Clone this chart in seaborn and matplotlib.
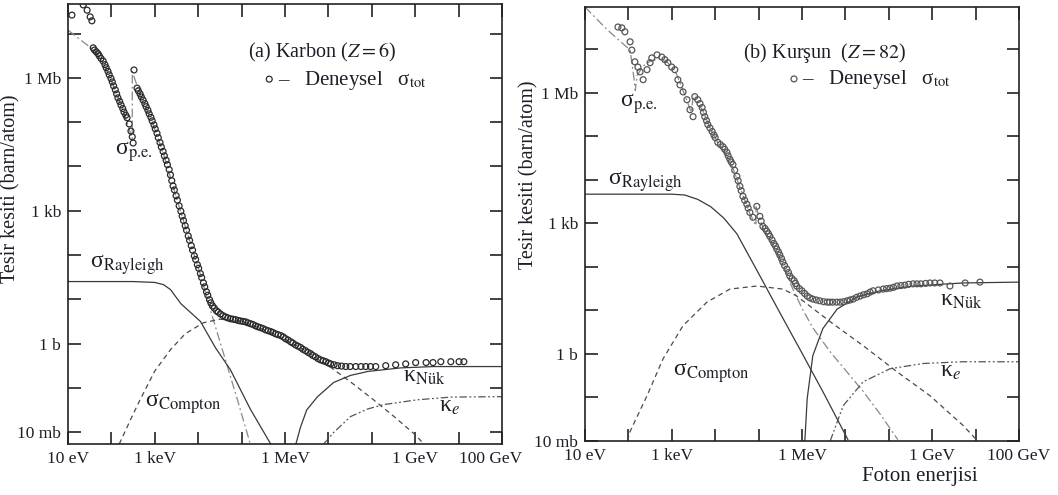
import numpy as np
import seaborn as sns
import matplotlib
matplotlib.use("Agg")
import matplotlib.pyplot as plt
from matplotlib.ticker import NullLocator
from matplotlib.transforms import ScaledTranslation

# All values are log10(E / eV) and log10(sigma / barn)

# ---- (a) Carbon ----
c_tot_logE = [1.09, 1.35, 1.44, 1.51, 1.55,
              1.58, 1.65, 1.72, 1.81, 1.88, 1.95, 2.02, 2.09, 2.15, 2.22, 2.29, 2.36, 2.41, 2.45, 2.48, 2.50,
              2.52, 2.59, 2.66, 2.73, 2.80, 2.87, 2.94, 3.01, 3.08, 3.15, 3.22, 3.29, 3.36, 3.42, 3.49, 3.56,
              3.63, 3.70, 3.77, 3.84, 3.91, 3.98, 4.05, 4.12, 4.19, 4.26, 4.33, 4.42, 4.51, 4.63, 4.74, 4.86,
              4.97, 5.09, 5.20, 5.32, 5.43, 5.55, 5.67, 5.78, 5.90, 6.01, 6.13, 6.24, 6.36, 6.47, 6.59, 6.70,
              6.82, 6.94, 7.05, 7.21, 7.40, 7.63, 7.86, 8.09, 8.32, 8.55, 8.78, 9.01, 9.25, 9.41, 9.59, 9.82,
              10.01, 10.12]
c_tot_logS = [7.42, 7.65, 7.53, 7.38, 7.29,
              6.68, 6.59, 6.50, 6.38, 6.23, 6.07, 5.91, 5.73, 5.55, 5.39, 5.23, 5.10, 4.96, 4.80, 4.67, 4.53,
              6.18, 5.77, 5.64, 5.50, 5.35, 5.19, 5.03, 4.85, 4.65, 4.44, 4.24, 4.04, 3.81, 3.56, 3.34, 3.11,
              2.88, 2.66, 2.43, 2.21, 1.98, 1.78, 1.58, 1.37, 1.17, 0.99, 0.85, 0.74, 0.67, 0.60, 0.56, 0.54,
              0.51, 0.49, 0.45, 0.40, 0.36, 0.31, 0.27, 0.22, 0.18, 0.11, 0.04, -0.03, -0.09, -0.16, -0.23, -0.30,
              -0.37, -0.41, -0.46, -0.50, -0.52, -0.52, -0.52, -0.52, -0.50, -0.48, -0.46, -0.43, -0.43, -0.43, -0.41, -0.41,
              -0.41, -0.41]
# extra measurements where the band of points is thick
c_band_logE = [1.61, 1.69, 1.76, 1.85, 1.92, 1.99, 2.05, 2.12, 2.19, 2.26, 2.33,
               2.62, 2.69, 2.77, 2.84, 2.91, 2.98, 3.05, 3.12, 3.19, 3.26, 3.33, 3.39,
               3.45, 3.52, 3.60, 3.66, 3.73, 3.80, 3.87, 3.94, 4.01, 4.08, 4.15, 4.22, 4.29, 4.37,
               4.46, 4.57, 4.68, 4.80, 4.92, 5.03, 5.14, 5.26, 5.37, 5.49, 5.61, 5.72, 5.84, 5.96,
               6.07, 6.18, 6.30, 6.41, 6.53, 6.64, 6.76, 6.88, 7.00, 7.13, 7.30, 7.50, 7.75, 7.97]
c_band_logS = [6.63, 6.55, 6.44, 6.30, 6.15, 5.99, 5.82, 5.64, 5.47, 5.31, 5.16,
               5.71, 5.57, 5.42, 5.27, 5.11, 4.94, 4.75, 4.54, 4.34, 4.14, 3.93, 3.68,
               3.47, 3.24, 2.99, 2.78, 2.56, 2.33, 2.11, 1.90, 1.70, 1.49, 1.28, 1.09, 0.92, 0.80,
               0.71, 0.63, 0.58, 0.55, 0.52, 0.50, 0.47, 0.43, 0.38, 0.34, 0.29, 0.25, 0.20, 0.15,
               0.08, 0.01, -0.06, -0.13, -0.20, -0.27, -0.34, -0.39, -0.44, -0.48, -0.51, -0.52, -0.52, -0.52]

c_pe_logE = [1.0, 1.3, 1.58, 1.81, 2.09, 2.29, 2.48, 2.48, 2.66, 2.94, 3.22, 3.49, 3.77, 4.05, 4.28, 4.6, 4.9, 5.2]
c_pe_logS = [7.08, 6.85, 6.64, 6.36, 5.72, 5.22, 4.62, 6.15, 5.62, 5.00, 4.22, 3.32, 2.42, 1.56, 0.76, -0.28, -1.26, -2.27]

c_ray_logE = [1.0, 2.5, 3.0, 3.2, 3.36, 3.6, 4.05, 4.4, 4.74, 5.2, 5.67]
c_ray_logS = [1.40, 1.40, 1.38, 1.33, 1.22, 0.90, 0.50, -0.10, -0.59, -1.48, -2.27]

c_comp_logE = [2.18, 2.45, 2.66, 3.0, 3.36, 3.7, 4.12, 4.5, 5.0, 5.5, 6.0, 6.5, 7.0, 7.5, 8.0, 8.5, 9.0, 9.2]
c_comp_logS = [-2.27, -1.70, -1.27, -0.62, -0.14, 0.22, 0.47, 0.55, 0.50, 0.32, 0.10, -0.18, -0.50, -0.86, -1.24, -1.64, -2.06, -2.27]

c_nuc_logE = [6.25, 6.36, 6.5, 6.75, 7.12, 7.51, 7.91, 8.67, 9.43, 11.0]
c_nuc_logS = [-2.27, -1.88, -1.50, -1.20, -0.88, -0.72, -0.63, -0.55, -0.52, -0.52]

c_el_logE = [6.89, 7.12, 7.51, 7.9, 8.27, 9.06, 9.82, 11.0]
c_el_logS = [-2.27, -2.01, -1.65, -1.48, -1.38, -1.27, -1.21, -1.20]

# ---- (b) Lead ----
p_tot_logE = [1.76, 1.85, 1.92, 2.04, 2.08, 2.15, 2.22, 2.27, 2.34, 2.43, 2.50, 2.54, 2.66, 2.77, 2.84, 2.91,
              3.00, 3.07, 3.14, 3.19, 3.26, 3.35, 3.42, 3.49, 3.53, 3.60, 3.70, 3.76, 3.83, 3.93, 4.00, 4.06,
              4.18, 4.27, 4.34, 4.41, 4.50, 4.57, 4.64, 4.73, 4.80, 4.87, 4.96, 5.03, 5.10, 5.19, 5.26, 5.35,
              5.42, 5.49, 5.56, 5.65, 5.72, 5.82, 5.88, 6.00, 6.12, 6.25, 6.41, 6.58, 6.71, 6.88, 7.04, 7.18,
              7.34, 7.50, 7.64, 7.87, 8.03, 8.19, 8.37, 8.56, 8.74, 8.95, 9.18, 9.41, 9.76, 10.10]
p_tot_logS = [7.51, 7.49, 7.40, 7.17, 6.98, 6.71, 6.59, 6.48, 6.30, 6.53, 6.69, 6.80, 6.87, 6.82, 6.76, 6.69,
              6.59, 6.53, 6.30, 6.18, 6.02, 5.84, 5.61, 5.45, 5.91, 5.84, 5.66, 5.45, 5.27, 5.11, 4.97, 4.86,
              4.76, 4.63, 4.47, 4.35, 4.08, 3.85, 3.62, 3.44, 3.25, 3.14, 3.39, 3.16, 2.93, 2.82, 2.70, 2.54,
              2.41, 2.27, 2.11, 1.95, 1.79, 1.68, 1.56, 1.45, 1.33, 1.26, 1.22, 1.19, 1.19, 1.19, 1.22, 1.26,
              1.33, 1.38, 1.45, 1.49, 1.51, 1.56, 1.58, 1.61, 1.61, 1.63, 1.63, 1.56, 1.63, 1.65]
p_band_logE = [3.65, 3.73, 3.80, 3.88, 3.97, 4.12, 4.22, 4.30, 4.37, 4.45, 4.53, 4.60, 4.68, 4.76,
               5.06, 5.15, 5.23, 5.31, 5.39, 5.46, 5.53, 5.60, 5.69, 5.77, 5.85, 5.94, 6.06, 6.18,
               6.33, 6.50, 6.64, 6.80, 6.96, 7.11, 7.26, 7.42, 7.57, 7.76, 7.95, 8.11, 8.28, 8.46,
               8.65, 8.85, 9.06]
p_band_logS = [5.75, 5.55, 5.36, 5.19, 5.03, 4.81, 4.70, 4.55, 4.41, 4.22, 3.98, 3.75, 3.53, 3.35,
               3.05, 2.88, 2.76, 2.62, 2.48, 2.34, 2.19, 2.03, 1.87, 1.73, 1.62, 1.50, 1.39, 1.29,
               1.24, 1.20, 1.19, 1.19, 1.20, 1.24, 1.30, 1.36, 1.42, 1.47, 1.50, 1.53, 1.57, 1.60,
               1.61, 1.62, 1.63]

p_pe_logE = [1.0, 1.5, 2.04, 2.12, 2.16, 2.20, 2.35, 2.5, 2.7, 2.9, 3.1, 3.3, 3.45, 3.49, 3.7, 3.9, 4.1, 4.34,
             4.57, 4.80, 4.94, 4.94, 5.10, 5.35, 5.56, 5.79, 6.0, 6.25, 6.65, 7.0, 7.41, 7.8, 8.21]
p_pe_logS = [7.97, 7.46, 6.98, 6.40, 6.05, 6.40, 6.62, 6.72, 6.78, 6.70, 6.45, 5.95, 5.55, 5.88, 5.62, 5.15, 4.78, 4.45,
             3.83, 3.22, 2.95, 3.38, 2.90, 2.48, 2.05, 1.49, 1.05, 0.60, 0.05, -0.37, -0.86, -1.38, -1.97]

p_ray_logE = [1.0, 3.0, 3.3, 3.6, 3.9, 4.2, 4.5, 5.0, 5.5, 6.0, 6.5, 7.06]
p_ray_logS = [3.67, 3.67, 3.65, 3.55, 3.38, 3.12, 2.76, 1.85, 0.93, 0.02, -0.90, -1.97]

p_comp_logE = [1.98, 2.04, 2.43, 2.80, 3.26, 3.81, 4.34, 4.96, 5.56, 5.88, 6.65, 7.41, 8.19, 8.95, 9.71, 10.05]
p_comp_logS = [-2.0, -1.78, -0.96, -0.11, 0.65, 1.19, 1.49, 1.56, 1.49, 1.33, 0.74, 0.19, -0.41, -0.96, -1.64, -2.0]

p_nuc_logE = [6.06, 6.07, 6.12, 6.25, 6.48, 6.81, 7.27, 7.80, 8.56, 9.71, 11.0]
p_nuc_logS = [-2.0, -1.94, -1.03, -0.04, 0.58, 1.03, 1.31, 1.45, 1.56, 1.63, 1.65]

p_el_logE = [6.65, 6.95, 7.41, 8.03, 8.79, 9.71, 11.0]
p_el_logS = [-2.0, -1.19, -0.64, -0.34, -0.22, -0.18, -0.18]

x_tick_labels = ['10 eV', '', '1 keV', '', '', '1 MeV', '', '', '1 GeV', '', '100 GeV']
y_tick_labels = ['10 mb', '', '1 b', '', '', '1 kb', '', '', '1 Mb', '']

sns.set_style("ticks")
plt.rcParams['font.family'] = ['Liberation Serif', 'DejaVu Serif']
plt.rcParams['mathtext.fontset'] = 'stix'

ink = '#1e1e28'


def p10(a):
    return np.power(10.0, np.asarray(a, dtype=float))


def curve(ax, lx, ly, **kw):
    sns.lineplot(x=p10(lx), y=p10(ly), ax=ax, sort=False, estimator=None, linewidth=0.9, **kw)


def panel(ax, d, ylim, title, title_pos, leg_pos, labels, dot_color):
    curve(ax, d['pe'][0], d['pe'][1], color='#888888', linestyle=(0, (7, 2.5, 1.5, 2.5)))
    curve(ax, d['ray'][0], d['ray'][1], color='#3a3a3a')
    curve(ax, d['comp'][0], d['comp'][1], color='#4a4a4a', linestyle=(0, (4, 3)))
    curve(ax, d['nuc'][0], d['nuc'][1], color='#3a3a3a')
    curve(ax, d['el'][0], d['el'][1], color='#555555', linestyle=(0, (6, 2, 1.5, 2, 1.5, 2)))
    sc = sns.scatterplot(x=p10(d['tot'][0]), y=p10(d['tot'][1]), ax=ax, marker='o', s=18,
                         facecolor='none', edgecolor=dot_color, linewidth=0.9, zorder=5)

    ax.set_xscale('log')
    ax.set_yscale('log')
    ax.set_xlim(10, 1e11)
    ax.set_ylim(*ylim)
    ax.set_xticks(p10(range(1, 12)))
    ax.set_xticklabels(x_tick_labels)
    ax.set_yticks(p10(range(-2, 8)))
    ax.set_yticklabels(y_tick_labels)
    ax.xaxis.set_minor_locator(NullLocator())
    ax.yaxis.set_minor_locator(NullLocator())
    ax.tick_params(direction='in', length=9, width=1.2, top=True, right=True,
                   labelsize=12.5, pad=5, color='#222222', labelcolor=ink)
    for s in ax.spines.values():
        s.set_linewidth(1.2)
        s.set_color('#222222')

    ax.text(*title_pos, title, transform=ax.transAxes, fontsize=14.5, color=ink, va='center')
    handle = sc.collections[0]
    ax.legend([handle], ['\u2013   Deneysel   σ$_{\\text{tot}}$'], loc='center left',
              bbox_to_anchor=leg_pos, frameon=False, fontsize=15, handletextpad=0.1,
              handlelength=0.6, borderaxespad=0, labelcolor=ink)

    for txt, lx, ly, fs in labels:
        ax.text(10 ** lx, 10 ** ly, txt, fontsize=fs, color=ink, va='baseline')

    ax.set_ylabel('Tesir kesiti (barn/atom)', fontsize=14.5, color=ink)


fig = plt.figure(figsize=(10.58, 4.95), dpi=100)
ax1 = fig.add_axes([0.0643, 0.1030, 0.4102, 0.8889])
ax2 = fig.add_axes([0.5529, 0.1091, 0.4102, 0.8768])

carbon = {'tot': (c_tot_logE + c_band_logE, c_tot_logS + c_band_logS),
          'pe': (c_pe_logE, c_pe_logS), 'ray': (c_ray_logE, c_ray_logS),
          'comp': (c_comp_logE, c_comp_logS), 'nuc': (c_nuc_logE, c_nuc_logS), 'el': (c_el_logE, c_el_logS)}
lead = {'tot': (p_tot_logE + p_band_logE, p_tot_logS + p_band_logS),
        'pe': (p_pe_logE, p_pe_logS), 'ray': (p_ray_logE, p_ray_logS),
        'comp': (p_comp_logE, p_comp_logS), 'nuc': (p_nuc_logE, p_nuc_logS), 'el': (p_el_logE, p_el_logS)}

carbon_labels = [('σ$_{\\text{Rayleigh}}$', 1.51, 1.71, 17),
                 ('σ$_{\\text{Compton}}$', 2.78, -1.43, 17),
                 ('σ$_{\\text{p.e.}}$', 2.09, 4.26, 17),
                 ('κ$_{\\text{Nük}}$', 8.71, -0.86, 17),
                 ('κ$_{e}$', 9.55, -1.54, 17)]
lead_labels = [('σ$_{\\text{p.e.}}$', 1.81, 5.68, 17),
               ('σ$_{\\text{Rayleigh}}$', 1.53, 3.89, 17),
               ('σ$_{\\text{Compton}}$', 3.03, -0.50, 17),
               ('κ$_{\\text{Nük}}$', 9.18, 1.10, 17),
               ('κ$_{e}$', 9.18, -0.52, 17)]

panel(ax1, carbon, (10 ** -2.27, 10 ** 7.67), '(a) Karbon ($Z = 6$)', (0.415, 0.889), (0.43, 0.827),
      carbon_labels, '#2a2a2a')
panel(ax2, lead, (1e-2, 10 ** 7.97), '(b) Kurşun  ($Z = 82$)', (0.364, 0.894), (0.448, 0.832),
      lead_labels, '#555555')

# nudge the last label of the left panel so it clears the right panel
last = ax1.get_xticklabels()[-1]
last.set_transform(last.get_transform() + ScaledTranslation(-8 / 72, 0, fig.dpi_scale_trans))

ax1.yaxis.set_label_coords(-0.11, 0.58)
ax2.yaxis.set_label_coords(-0.108, 0.613)
ax2.set_xlabel('Foton enerjisi', fontsize=15, color=ink)
ax2.xaxis.set_label_coords(0.772, -0.06)

fig.savefig('out.png', dpi=100)
